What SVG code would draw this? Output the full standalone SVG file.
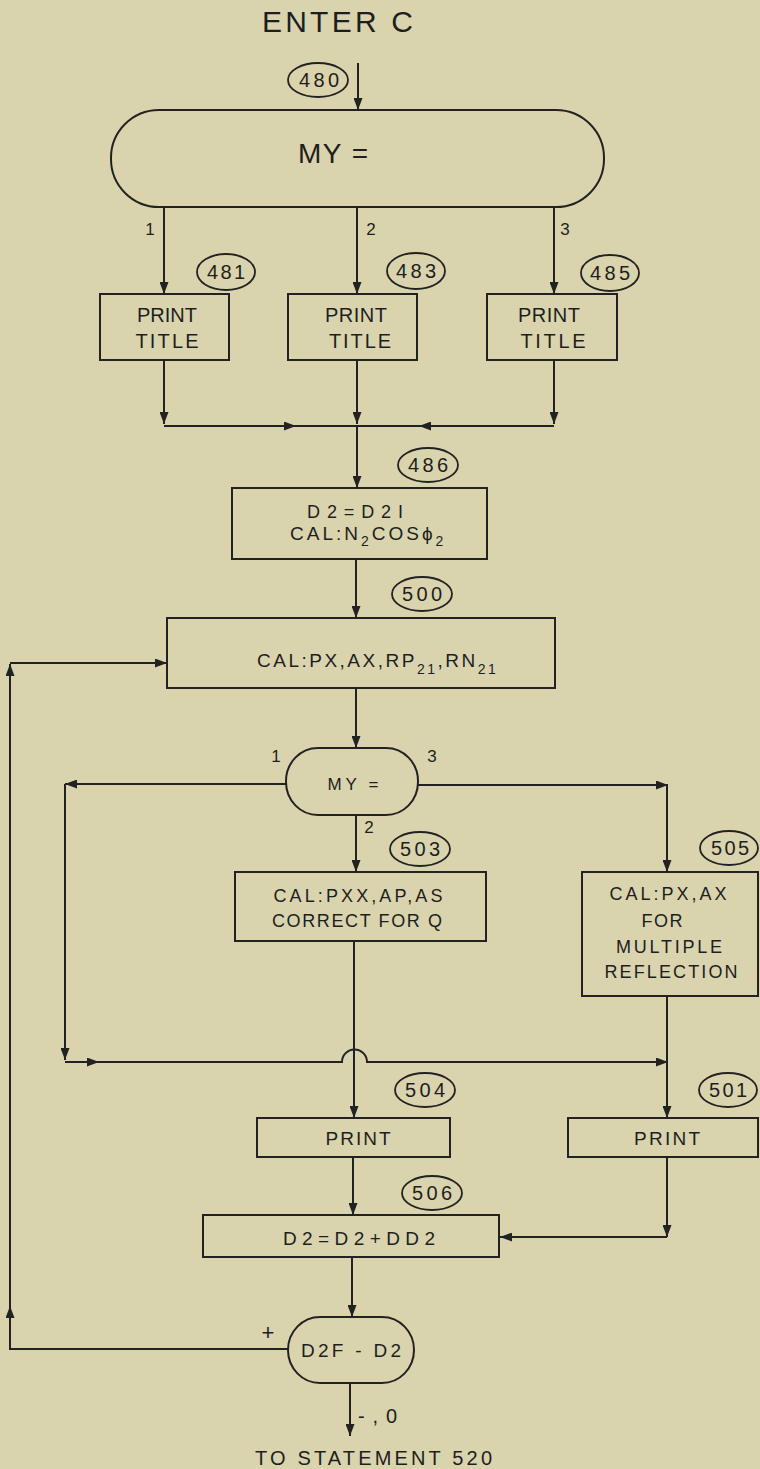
<svg xmlns="http://www.w3.org/2000/svg" width="760" height="1469" viewBox="0 0 760 1469">
<defs>
<style>
.bg{fill:#d9d4ad}
.s{fill:none;stroke:#222;stroke-width:2}
.o{fill:none;stroke:#222;stroke-width:1.8}
.c{fill:none;stroke:#222;stroke-width:2}
.ar{marker-end:url(#ah)}
text{font-family:"Liberation Sans",Arial,sans-serif;fill:#1e1e1e}
.n{font-size:20px;text-anchor:middle}
.l{font-size:17px;text-anchor:middle}
.m{text-anchor:middle}
.sub{font-size:14px}
</style>
<marker id="ah" viewBox="0 0 12 9" refX="12" refY="4.5" markerWidth="12" markerHeight="9" markerUnits="userSpaceOnUse" orient="auto">
<path d="M0,0 L12,4.5 L0,9 z" fill="#222"/>
</marker>
</defs>
<rect class="bg" x="0" y="0" width="760" height="1469"/>

<g id="enter">
<text x="262" y="32" font-size="30" textLength="151" lengthAdjust="spacing">ENTER C</text>
</g>
<g id="n480"><ellipse class="o" cx="318" cy="80" rx="30" ry="17"/><text class="n" x="319" y="87" textLength="40" lengthAdjust="spacing">480</text></g>

<g id="my1">
<rect class="s" x="111" y="110" width="493" height="97" rx="48" ry="48"/>
<text x="333" y="163" font-size="28" text-anchor="middle" textLength="70" lengthAdjust="spacing">MY =</text>
</g>

<g id="lbl-top">
<text class="l" x="150" y="235">1</text>
<text class="l" x="371" y="235">2</text>
<text class="l" x="565" y="235">3</text>
</g>

<g id="n481"><ellipse class="o" cx="226" cy="272" rx="29" ry="18"/><text class="n" x="226" y="279" textLength="38" lengthAdjust="spacing">481</text></g>
<g id="n483"><ellipse class="o" cx="416" cy="271" rx="29" ry="18"/><text class="n" x="416" y="278" textLength="40" lengthAdjust="spacing">483</text></g>
<g id="n485"><ellipse class="o" cx="610" cy="273" rx="29" ry="18"/><text class="n" x="610" y="280" textLength="40" lengthAdjust="spacing">485</text></g>

<g id="b481"><rect class="s" x="100" y="294" width="129" height="66"/>
<text class="m" x="167" y="322" font-size="20" textLength="60" lengthAdjust="spacing">PRINT</text>
<text class="m" x="167" y="348" font-size="20" textLength="63" lengthAdjust="spacing">TITLE</text></g>
<g id="b483"><rect class="s" x="288" y="294" width="129" height="66"/>
<text class="m" x="356" y="322" font-size="20" textLength="62" lengthAdjust="spacing">PRINT</text>
<text class="m" x="360" y="348" font-size="20" textLength="62" lengthAdjust="spacing">TITLE</text></g>
<g id="b485"><rect class="s" x="487" y="294" width="130" height="66"/>
<text class="m" x="549" y="322" font-size="20" textLength="62" lengthAdjust="spacing">PRINT</text>
<text class="m" x="553" y="348" font-size="20" textLength="65" lengthAdjust="spacing">TITLE</text></g>

<g id="n486"><ellipse class="o" cx="428" cy="465" rx="30" ry="17"/><text class="n" x="428" y="472" textLength="40" lengthAdjust="spacing">486</text></g>
<g id="b486"><rect class="s" x="232" y="488" width="255" height="71"/>
<text class="m" x="355" y="518" font-size="18" textLength="96" lengthAdjust="spacing">D2=D2I</text>
<text x="290" y="540" font-size="19" letter-spacing="3">CAL:N<tspan class="sub" dy="6">2</tspan><tspan dy="-6">COSϕ</tspan><tspan class="sub" dy="6">2</tspan></text></g>

<g id="n500"><ellipse class="o" cx="422" cy="594" rx="30" ry="17"/><text class="n" x="422" y="601" textLength="40" lengthAdjust="spacing">500</text></g>
<g id="b500"><rect class="s" x="167" y="618" width="388" height="70"/>
<text x="257" y="667" font-size="19" letter-spacing="2.5">CAL:PX,AX,RP<tspan class="sub" dy="7">21</tspan><tspan dy="-7">,RN</tspan><tspan class="sub" dy="7">21</tspan></text></g>

<g id="my2"><rect class="s" x="286" y="748" width="132" height="67" rx="32" ry="33"/>
<text class="m" x="353" y="790" font-size="17" textLength="51" lengthAdjust="spacing">MY =</text></g>
<g id="lbl-mid">
<text class="l" x="276" y="762">1</text>
<text class="l" x="432" y="762">3</text>
<text class="l" x="369" y="833">2</text>
</g>

<g id="n503"><ellipse class="o" cx="420" cy="849" rx="30" ry="17"/><text class="n" x="420" y="856" textLength="40" lengthAdjust="spacing">503</text></g>
<g id="n505"><ellipse class="o" cx="729" cy="848" rx="29" ry="17"/><text class="n" x="730" y="855" textLength="38" lengthAdjust="spacing">505</text></g>

<g id="b503"><rect class="s" x="235" y="872" width="251" height="69"/>
<text class="m" x="358" y="902" font-size="18" textLength="169" lengthAdjust="spacing">CAL:PXX,AP,AS</text>
<text class="m" x="357" y="927" font-size="18" textLength="170" lengthAdjust="spacing">CORRECT FOR Q</text></g>
<g id="b505"><rect class="s" x="582" y="872" width="176" height="124"/>
<text class="m" x="668" y="900" font-size="18" textLength="117" lengthAdjust="spacing">CAL:PX,AX</text>
<text class="m" x="662" y="927" font-size="18" textLength="41" lengthAdjust="spacing">FOR</text>
<text class="m" x="669" y="953" font-size="18" textLength="106" lengthAdjust="spacing">MULTIPLE</text>
<text class="m" x="671" y="978" font-size="18" textLength="133" lengthAdjust="spacing">REFLECTION</text></g>

<g id="n504"><ellipse class="o" cx="425" cy="1090" rx="30" ry="17"/><text class="n" x="425" y="1097" textLength="40" lengthAdjust="spacing">504</text></g>
<g id="n501"><ellipse class="o" cx="728" cy="1090" rx="29" ry="17"/><text class="n" x="728" y="1097" textLength="38" lengthAdjust="spacing">501</text></g>
<g id="b504"><rect class="s" x="257" y="1118" width="193" height="39"/>
<text class="m" x="358" y="1145" font-size="19" textLength="65" lengthAdjust="spacing">PRINT</text></g>
<g id="b501"><rect class="s" x="568" y="1118" width="190" height="39"/>
<text class="m" x="667" y="1145" font-size="19" textLength="66" lengthAdjust="spacing">PRINT</text></g>

<g id="n506"><ellipse class="o" cx="432" cy="1193" rx="30" ry="17"/><text class="n" x="432" y="1200" textLength="40" lengthAdjust="spacing">506</text></g>
<g id="b506"><rect class="s" x="203" y="1215" width="296" height="42"/>
<text class="m" x="359" y="1245" font-size="19" textLength="152" lengthAdjust="spacing">D2=D2+DD2</text></g>

<g id="d2f"><rect class="s" x="288" y="1317" width="126" height="66" rx="32" ry="33"/>
<text class="m" x="351" y="1357" font-size="19" textLength="100" lengthAdjust="spacing">D2F - D2</text></g>
<g id="lbl-bot">
<text x="268" y="1340" font-size="22" text-anchor="middle">+</text>
<text x="358" y="1423" font-size="20" textLength="39" lengthAdjust="spacing">-,0</text>
</g>
<g id="exit">
<text x="255" y="1465" font-size="20" textLength="237" lengthAdjust="spacing">TO STATEMENT  520</text>
</g>

<g id="connectors">
<path class="c ar" d="M358,63 V110"/>
<path class="c ar" d="M164,207 V294"/>
<path class="c ar" d="M357,207 V294"/>
<path class="c ar" d="M554,207 V294"/>
<path class="c ar" d="M164,360 V424"/>
<path class="c ar" d="M357,360 V424"/>
<path class="c ar" d="M554,360 V424"/>
<path class="c ar" d="M164,426 H296"/>
<path class="c" d="M294,426 H357"/>
<path class="c ar" d="M554,426 H419"/>
<path class="c" d="M421,426 H357"/>
<path class="c ar" d="M357,426 V488"/>
<path class="c ar" d="M356,559 V618"/>
<path class="c ar" d="M356,688 V748"/>
<path class="c ar" d="M286,784 H65"/>
<path class="c ar" d="M65,784 V1060"/>
<path class="c ar" d="M65,1062 H99"/>
<path class="c ar" d="M97,1062 H342 A12.5,12.5 0 0 1 367,1062 H668"/>
<path class="c ar" d="M418,785 H668"/>
<path class="c ar" d="M667,785 V872"/>
<path class="c ar" d="M356,815 V872"/>
<path class="c ar" d="M354,941 V1118"/>
<path class="c ar" d="M667,996 V1118"/>
<path class="c ar" d="M353,1157 V1215"/>
<path class="c ar" d="M667,1157 V1237"/>
<path class="c ar" d="M667,1237 H500"/>
<path class="c ar" d="M352,1257 V1317"/>
<path class="c ar" d="M350,1383 V1436"/>
<path class="c ar" d="M288,1349 H10 V1306"/>
<path class="c ar" d="M10,1306 V664"/>
<path class="c ar" d="M10,663 H167"/>
</g>
</svg>
